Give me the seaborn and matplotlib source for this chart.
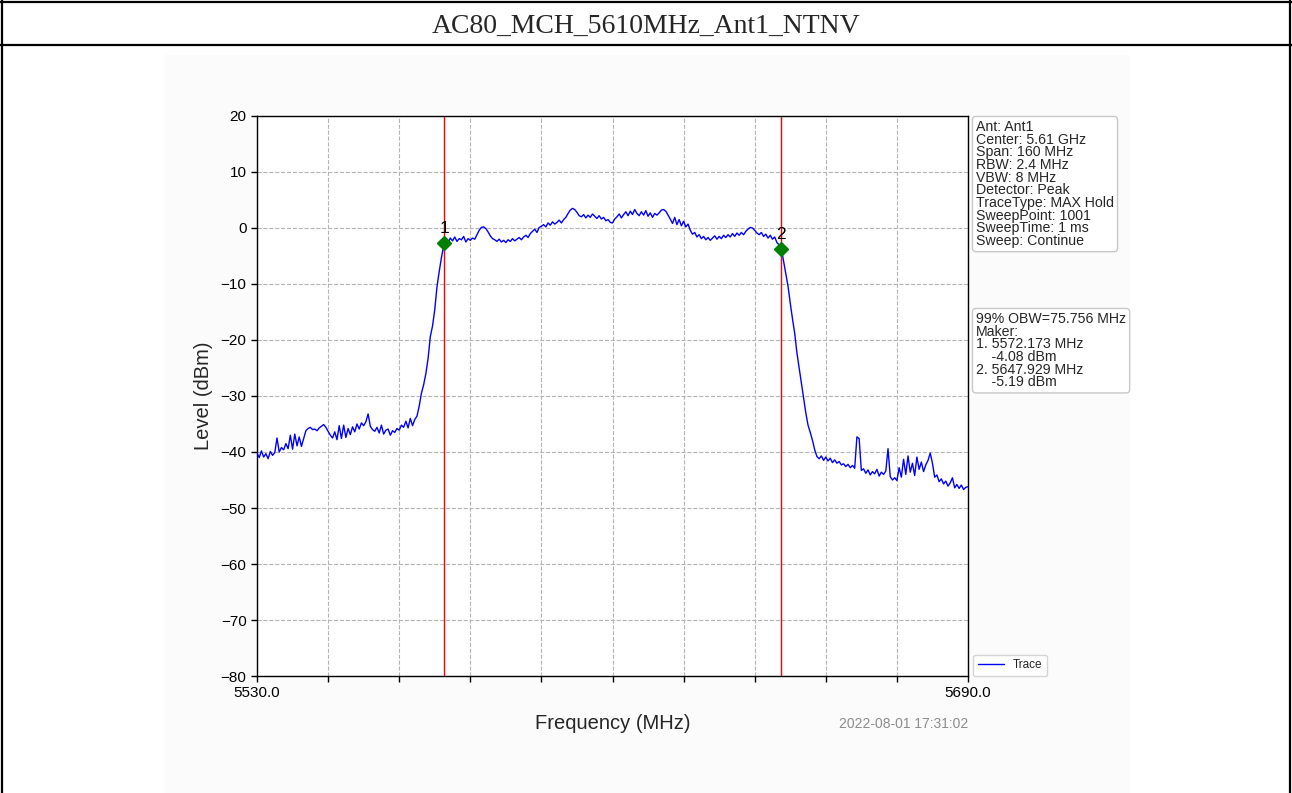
import numpy as np
import pandas as pd
import matplotlib
matplotlib.use("Agg")
import matplotlib.pyplot as plt
from matplotlib.lines import Line2D
from matplotlib.patches import Rectangle
import seaborn as sns

# ---------------- data ----------------
title = "AC80_MCH_5610MHz_Ant1_NTNV"
freq_start, freq_stop, freq_step = 5530.0, 5690.0, 0.5
level = [
    -40.2, -41.0, -39.8, -40.9, -40.3, -41.2, -39.9, -40.6, -40.1,
    -37.5, -40.0, -39.2, -39.6, -38.5, -39.4, -37.0, -39.5, -36.8, -38.9, -37.3, -39.0, -37.6, -36.2,
    -35.8, -35.6, -36.0, -35.9, -36.2, -35.7, -35.4, -35.1, -35.6,
    -36.3, -37.0, -37.5, -36.4, -37.8, -35.3,
    -37.6, -35.2, -37.4, -35.8, -36.9, -35.5, -36.4, -35.0, -35.9, -34.8, -35.3, -34.6,
    -33.2,
    -35.4, -36.0, -36.3, -35.6, -36.6, -35.2, -36.8, -36.1, -35.9, -37.0, -36.2, -36.5,
    -35.8, -36.1, -35.2, -35.6, -34.5, -35.7, -34.0, -35.3, -34.2, -33.6,
    -31.8, -29.5, -28.0, -26.0, -23.3, -19.4, -17.5, -14.6, -10.5, -7.8, -5.3, -3.2,
    -2.2, -2.6, -1.8, -2.3, -1.6, -2.4, -1.9, -2.1, -1.5, -2.5, -1.9,
    -2.2, -1.8, -2.0,
    -1.2, -0.4, 0.1, 0.2, -0.1, -0.7, -1.4, -1.9,
    -2.1, -2.4, -2.0, -2.5, -2.2, -2.6, -2.1, -2.4, -1.9, -2.3, -2.0, -1.7, -2.1, -1.6, -1.3, -1.7, -1.0,
    -0.6, -0.2, -0.8, 0.1, 0.3,
    0.6, 0.2, 0.9, 0.5, 1.1, 0.7, 1.0, 1.4, 0.9, 1.5,
    1.9, 2.6, 3.2, 3.5, 3.3, 2.8, 2.2,
    2.0, 2.4, 1.8, 2.3, 1.9, 2.5, 2.1, 1.7, 2.2, 1.6, 1.9, 1.3, 1.5,
    1.0, 0.9, 1.6,
    2.0, 2.5, 1.8, 2.4, 2.9, 2.2, 3.0, 2.4, 3.3, 2.6, 2.2, 2.9, 2.3, 3.1, 2.1, 2.7, 1.9, 2.6, 2.3,
    2.7, 3.2, 3.3, 3.0, 2.3, 1.6,
    0.8, 1.9, 0.6, 1.5, 0.4, 1.2, 0.2, 0.7,
    -0.4, -1.1, -0.8, -1.6, -1.2, -1.9, -1.5, -2.1, -1.7, -2.2, -1.8, -1.4, -2.0, -1.5, -1.9, -1.3,
    -1.7, -1.2, -1.6, -1.0, -1.5, -0.9, -1.3, -0.8, -1.2, -0.6,
    -0.2, 0.1, 0.0, -0.4, -0.9,
    -1.2, -0.8, -1.5, -1.1, -1.8, -1.3, -2.0, -1.6, -2.6, -3.0,
    -3.7,
    -5.9, -8.0, -10.4, -13.4, -16.2, -18.8, -22.3, -25.0, -27.6, -30.4, -33.0, -35.2, -36.5, -37.9, -39.6, -40.8,
    -41.2, -40.7, -41.5, -40.9, -41.6, -41.1, -41.9, -41.4, -42.0, -41.7, -42.3, -42.1, -42.6, -42.2, -42.8, -42.4, -42.9,
    -37.3, -37.6, -43.3,
    -43.0, -43.8, -43.2, -44.1, -43.5, -43.9, -43.1, -44.3, -43.6, -44.0, -43.4,
    -39.4,
    -44.4, -45.0, -44.6, -45.1,
    -42.8, -44.5, -41.3, -44.0, -40.7, -43.6, -42.0, -44.2, -40.9, -43.1, -41.8,
    -43.5, -42.3, -41.5, -40.2, -42.0,
    -44.5, -44.1, -45.3, -44.8, -45.7, -45.2, -46.1, -45.5, -44.6, -46.4, -45.8, -46.5, -45.9, -46.7, -46.3, -46.2,
]
freq = np.arange(len(level)) * freq_step + freq_start

marker_freq = [5572.173, 5647.929]
marker_level = [-2.6, -3.7]
marker_names = ["1", "2"]

xticks = [5530, 5546, 5562, 5578, 5594, 5610, 5626, 5642, 5658, 5674, 5690]
xtick_labels = ["5530.0", "", "", "", "", "", "", "", "", "", "5690.0"]
yticks = [-80, -70, -60, -50, -40, -30, -20, -10, 0, 10, 20]

info_lines = ["Ant: Ant1", "Center: 5.61 GHz", "Span: 160 MHz", "RBW: 2.4 MHz",
              "VBW: 8 MHz", "Detector: Peak", "TraceType: MAX Hold",
              "SweepPoint: 1001", "SweepTime: 1 ms", "Sweep: Continue"]
obw_lines = ["99% OBW=75.756 MHz", "Maker:", "1. 5572.173 MHz", "    -4.08 dBm",
             "2. 5647.929 MHz", "    -5.19 dBm"]
timestamp = "2022-08-01 17:31:02"

# ---------------- style ----------------
sns.set_style("white")
plt.rcParams["font.family"] = ["Liberation Sans", "DejaVu Sans"]

W, H = 1292, 793
fig = plt.figure(figsize=(W / 100, H / 100), dpi=100)
fig.patch.set_facecolor("white")

# light panel behind the chart image
fig.add_artist(Rectangle((165 / W, 0), (1130 - 165) / W, (793 - 55) / H,
                         transform=fig.transFigure, fc="#fbfbfb", ec="none", zorder=0))

# outer table frame
for xs, ys in [([2 / W, 2 / W], [0, 1]), ([1290 / W, 1290 / W], [0, 1]),
               ([0, 1], [1 - 1.5 / H, 1 - 1.5 / H]), ([0, 1], [1 - 45 / H, 1 - 45 / H])]:
    fig.add_artist(Line2D(xs, ys, transform=fig.transFigure, color="black", lw=1.6))

fig.text(0.5, 1 - 26 / H, title, family=["Liberation Serif", "DejaVu Serif"],
         fontsize=20, ha="center", va="center")

ax_l, ax_r, ax_t, ax_b = 257, 968, 116, 676
ax = fig.add_axes([ax_l / W, 1 - ax_b / H, (ax_r - ax_l) / W, (ax_b - ax_t) / H])
ax.set_facecolor("white")

df = pd.DataFrame({"Frequency (MHz)": freq, "Level (dBm)": level})
sns.lineplot(data=df, x="Frequency (MHz)", y="Level (dBm)", ax=ax, color="blue",
             lw=1.0, label="Trace", estimator=None, sort=False, zorder=3)

for f in marker_freq:
    ax.axvline(f, color="red", lw=1.0, zorder=2)
ax.plot(marker_freq, marker_level, "D", color="green", ms=7, zorder=4)
for f, l, n in zip(marker_freq, marker_level, marker_names):
    ax.annotate(n, (f, l), xytext=(0, 4.5), textcoords="offset points",
                ha="center", va="bottom", fontsize=12.5, color="black", zorder=5)

ax.set_xlim(5530, 5690)
ax.set_ylim(-80, 20)
ax.set_xticks(xticks)
ax.set_xticklabels(xtick_labels)
ax.set_yticks(yticks)
ax.tick_params(axis="both", labelsize=11, length=4, width=1, direction="out",
               colors="black", left=True, bottom=True)
ax.grid(True, ls="--", color="#b4b4b4", lw=0.8)
for s in ax.spines.values():
    s.set_color("black")
    s.set_linewidth(1.0)
    s.set_visible(True)

ax.set_xlabel("Frequency (MHz)", fontsize=14.5, labelpad=9.5)
ax.set_ylabel("Level (dBm)", fontsize=14.5, labelpad=5.8)

leg = ax.legend(loc="lower left", bbox_to_anchor=(1 + 5 / 711, 0.0), borderaxespad=0,
                fontsize=8.5, handlelength=2.2, frameon=True, fancybox=True)
leg.get_frame().set_edgecolor("#cccccc")

box = dict(boxstyle="round,pad=0.25", fc="white", ec="#c8c8c8", lw=1)
ax.text(1 + 8 / 711, 1 - 4 / 560, "\n".join(info_lines), transform=ax.transAxes,
        ha="left", va="top", fontsize=10.2, linespacing=0.88, bbox=box)
ax.text(1 + 8 / 711, 1 - (312 - 116) / 560, "\n".join(obw_lines), transform=ax.transAxes,
        ha="left", va="top", fontsize=10.2, linespacing=0.88, bbox=box)

fig.text(968 / W, 1 - 724 / H, timestamp, ha="right", va="center",
         color="#8c8c8c", fontsize=10)

fig.savefig("out.png", dpi=100)
